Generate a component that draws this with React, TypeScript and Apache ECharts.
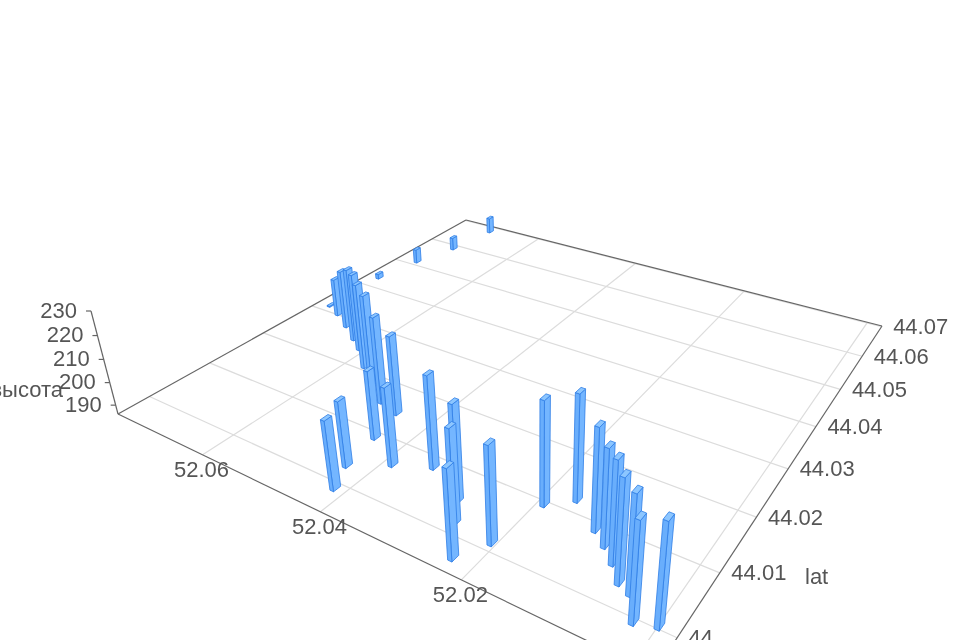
import React, { useEffect, useRef } from "react";
import * as echarts from "echarts";

// Data
const lngValues = [52.0191,52.0163,52.0120,52.0099,52.0079,52.0060,52.0043,52.0023,51.9999,52.0415,52.0433,52.0442,52.0387,52.0341,52.0279,52.0259,52.0227,52.0205,52.0454,52.0743,52.0728,52.0707,52.0695,52.0742,52.0711,52.0673,52.0636,52.0609,52.0569,52.0530,52.0489];
const latValues = [44.0095,44.0121,44.0089,44.0073,44.0055,44.0034,44.0027,43.9996,44.0004,43.9991,44.0030,44.0090,44.0060,44.0082,44.0049,44.0018,43.9973,44.0013,44.0145,44.0432,44.0513,44.0588,44.0682,44.0317,44.0303,44.0282,44.0259,44.0242,44.0209,44.0182,44.0155];
const heightValues = [227.7,228.6,226.5,224.2,225.8,226.0,224.0,224.1,225.2,214.5,213.5,215.1,218.6,224.3,225.0,223.6,221.2,224.4,220.0,188.4,193.0,192.4,194.0,186.5,203.7,212.9,219.2,221.0,223.7,225.5,223.4];
const lngTicks = [52, 52.02, 52.04, 52.06];
const lngLabels = [null, "52.02", "52.04", "52.06"];
const latTicks = [44, 44.01, 44.02, 44.03, 44.04, 44.05, 44.06, 44.07];
const latLabels = ["44", "44.01", "44.02", "44.03", "44.04", "44.05", "44.06", "44.07"];
const heightTicks = [190, 200, 210, 220, 230];
const heightLabels = ["190", "200", "210", "220", "230"];

// Scales
const lngMin = 51.9978, lngMax = 52.0767, latMin = 43.9952, latMax = 44.0702, hMin = 186, hMax = 230;

// Camera: floor corners and the vanishing point of the vertical direction
const P0 = [654, 673], P1 = [118, 414], P2 = [466, 220], P3 = [882, 326];
const VP = [538, 2016];
const dx1 = P1[0]-P2[0], dx2 = P3[0]-P2[0], sx = P0[0]-P1[0]+P2[0]-P3[0];
const dy1 = P1[1]-P2[1], dy2 = P3[1]-P2[1], sy = P0[1]-P1[1]+P2[1]-P3[1];
const den = dx1*dy2-dx2*dy1;
const g = (sx*dy2-dx2*sy)/den, h = (dx1*sy-sx*dy1)/den;
const a = P1[0]-P0[0]+g*P1[0], b = P3[0]-P0[0]+h*P3[0], c = P0[0];
const d = P1[1]-P0[1]+g*P1[1], e = P3[1]-P0[1]+h*P3[1], f = P0[1];
const s = (g+1)*(311-414)/(VP[1]-311);

const scaleU = (lng: number) => (lng-lngMin)/(lngMax-lngMin);
const scaleV = (lat: number) => (lat-latMin)/(latMax-latMin);
const scaleZ = (v: number) => (v-hMin)/(hMax-hMin);
function projectUVZ(u: number, v: number, z: number): [number, number] {
  const w = g*u+h*v+1+z*s;
  return [(a*u+b*v+c+z*s*VP[0])/w, (d*u+e*v+f+z*s*VP[1])/w];
}
const project = (lng: number, lat: number, height: number) => projectUVZ(scaleU(lng), scaleV(lat), scaleZ(height));
const depth = (lng: number, lat: number) => g*scaleU(lng)+h*scaleV(lat)+1;

const BAR_U = 0.0036, BAR_V = 0.0078; // half bar size, as a share of the floor
const FONT = "Liberation Sans, Arial, sans-serif";
const TEXT = "#555";

const barData = lngValues
  .map((lng, i) => [lng, latValues[i], heightValues[i]])
  .sort((p, q) => depth(q[0], q[1]) - depth(p[0], p[1]));

const stroke = { stroke: "#2f7de6", lineWidth: 0.8 };
function renderBar(_: any, api: any) {
  const u = scaleU(api.value(0)), v = scaleV(api.value(1)), z = scaleZ(api.value(2));
  const pt = (du: number, dv: number, zz: number) => projectUVZ(u+du*BAR_U, v+dv*BAR_V, zz);
  const poly = (points: number[][], fill: string) => ({ type: "polygon", shape: { points }, style: { fill, ...stroke } });
  return {
    type: "group",
    children: [
      poly([pt(-1,-1,0), pt(-1,1,0), pt(-1,1,z), pt(-1,-1,z)], "#74b6ff"),
      poly([pt(-1,-1,0), pt(1,-1,0), pt(1,-1,z), pt(-1,-1,z)], "#69aefc"),
      poly([pt(-1,-1,z), pt(1,-1,z), pt(1,1,z), pt(-1,1,z)], "#8cc6ff"),
    ],
  };
}

const line = (p: number[], q: number[], color: string, lineWidth = 1.2) => ({
  type: "line",
  shape: { x1: p[0], y1: p[1], x2: q[0], y2: q[1] },
  style: { stroke: color, lineWidth },
});
const label = (text: string, x: number, y: number, align: string) => ({
  type: "text",
  style: { text, x, y, align, verticalAlign: "middle", fill: TEXT, fontSize: 22, fontFamily: FONT },
});

const axisTypeGrid = 0, axisTypeLng = 1, axisTypeLat = 2, axisTypeH = 3;
const gridData = [
  ...lngTicks.map((t) => [axisTypeLng, t]),
  ...latTicks.map((t) => [axisTypeLat, t]),
];
function renderGrid(_: any, api: any) {
  const kind = api.value(0), t = api.value(1);
  if (kind === axisTypeLng) return line(project(t, latMin, hMin), project(t, latMax, hMin), "#dcdcdc");
  return line(project(lngMin, t, hMin), project(lngMax, t, hMin), "#dcdcdc");
}
const frameData = [0, 1, 2, 3].map((i) => [axisTypeGrid, i]);
function renderFrame(_: any, api: any) {
  const corners = [project(lngMin, latMin, hMin), project(lngMax, latMin, hMin), project(lngMax, latMax, hMin), project(lngMin, latMax, hMin)];
  const i = api.value(1);
  return line(corners[i], corners[(i+1)%4], "#666");
}
const labelData = [
  ...lngTicks.map((t, i) => [axisTypeLng, t, i]),
  ...latTicks.map((t, i) => [axisTypeLat, t, i]),
  ...heightTicks.map((t, i) => [axisTypeH, t, i]),
];
function renderLabel(_: any, api: any) {
  const kind = api.value(0), t = api.value(1), i = api.value(2);
  if (kind === axisTypeLng) {
    const txt = lngLabels[i];
    if (!txt) return null;
    const p = project(t, latMin, hMin);
    return label(txt, p[0]-1, p[1]+15, "center");
  }
  if (kind === axisTypeLat) {
    const p = project(lngMin, t, hMin);
    return label(latLabels[i], p[0]+11.5, p[1], "left");
  }
  const p = project(lngMax, latMin, t);
  return {
    type: "group",
    children: [
      line([p[0]-5, p[1]], p, "#666"),
      label(heightLabels[i], p[0]-14, p[1]-1, "right"),
    ],
  };
}
const heightAxisData = [[0]];
function renderHeightAxis() {
  return line(project(lngMax, latMin, hMin), project(lngMax, latMin, hMax), "#666");
}

export default function App() {
  const ref = useRef<HTMLDivElement>(null);
  useEffect(() => {
    const chart = echarts.init(ref.current!, undefined, { renderer: "svg" });
    chart.setOption({
      animation: false,
      backgroundColor: "#fff",
      graphic: [
        { type: "text", style: { text: "lat", x: 805, y: 576, verticalAlign: "middle", fill: TEXT, fontSize: 22, fontFamily: FONT } },
        { type: "text", style: { text: "высота", x: 63, y: 389, align: "right", verticalAlign: "middle", fill: TEXT, fontSize: 22, fontFamily: FONT } },
      ],
      series: [
        { type: "custom", coordinateSystem: "none", silent: true, z: 1, data: gridData, renderItem: renderGrid },
        { type: "custom", coordinateSystem: "none", silent: true, z: 2, data: frameData, renderItem: renderFrame },
        { type: "custom", coordinateSystem: "none", silent: true, z: 2, data: heightAxisData, renderItem: renderHeightAxis },
        { type: "custom", coordinateSystem: "none", silent: true, z: 3, data: barData, renderItem: renderBar },
        { type: "custom", coordinateSystem: "none", silent: true, z: 4, data: labelData, renderItem: renderLabel },
      ],
    });
    return () => chart.dispose();
  }, []);
  return <div ref={ref} style={{ position: "fixed", left: 0, top: 0, width: 960, height: 640, filter: "blur(0.7px)" }} />;
}
